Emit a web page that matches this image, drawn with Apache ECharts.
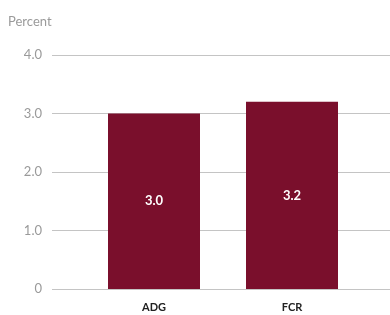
<!DOCTYPE html>
<html>
<head>
<meta charset="utf-8">
<script src="https://cdn.jsdelivr.net/npm/echarts@6/dist/echarts.min.js"></script>
<style>
  html, body { margin: 0; padding: 0; background: #fff; }
  #chart { width: 390px; height: 315px; }
</style>
</head>
<body>
<div id="chart"></div>
<script>
// data
const categories = ['ADG', 'FCR']
const values = [3.0, 3.2]
const yTicks = [0, 1, 2, 3, 4]

const font = 'Lato, "Open Sans", sans-serif'
const barColor = '#7a0f2c'

let chart = echarts.init(document.getElementById('chart'))
let option = {
  animation: false,
  title: {
    text: 'Percent',
    left: 3,
    top: 10,
    textStyle: { color: '#9a9a9a', fontSize: 13, fontWeight: 'normal', fontFamily: font }
  },
  // grid 0 only carries the y labels and the long split lines
  grid: [
    { left: 52, right: 0, top: 55, bottom: 26 },
    { left: 85, right: 29, top: 55, bottom: 26 }
  ],
  xAxis: [
    { gridIndex: 0, type: 'category', data: categories, show: false },
    {
      gridIndex: 1,
      type: 'category',
      data: categories,
      axisLine: { show: false },
      axisTick: { show: false },
      axisLabel: { color: '#222', fontSize: 11, fontWeight: 'bold', fontFamily: font, margin: 13 }
    }
  ],
  yAxis: [
    {
      gridIndex: 0,
      type: 'value',
      min: yTicks[0],
      max: yTicks[yTicks.length - 1],
      interval: 1,
      axisLine: { show: false },
      axisTick: { show: false },
      axisLabel: {
        color: '#9a9a9a',
        fontSize: 13,
        fontFamily: font,
        margin: 10,
        formatter: v => (v === 0 ? '0' : v.toFixed(1))
      },
      splitLine: { lineStyle: { color: '#c4c4c4', width: 1 } }
    },
    {
      gridIndex: 1,
      type: 'value',
      min: yTicks[0],
      max: yTicks[yTicks.length - 1],
      interval: 1,
      show: false,
      splitLine: { show: false }
    }
  ],
  series: [
    {
      type: 'bar',
      xAxisIndex: 1,
      yAxisIndex: 1,
      data: values,
      barWidth: 92,
      itemStyle: { color: barColor },
      label: {
        show: true,
        position: 'inside',
        color: '#fff',
        fontSize: 13,
        fontWeight: 'bold',
        fontFamily: font,
        formatter: p => p.value.toFixed(1)
      }
    }
  ]
}
chart.setOption(option)
</script>
</body>
</html>
